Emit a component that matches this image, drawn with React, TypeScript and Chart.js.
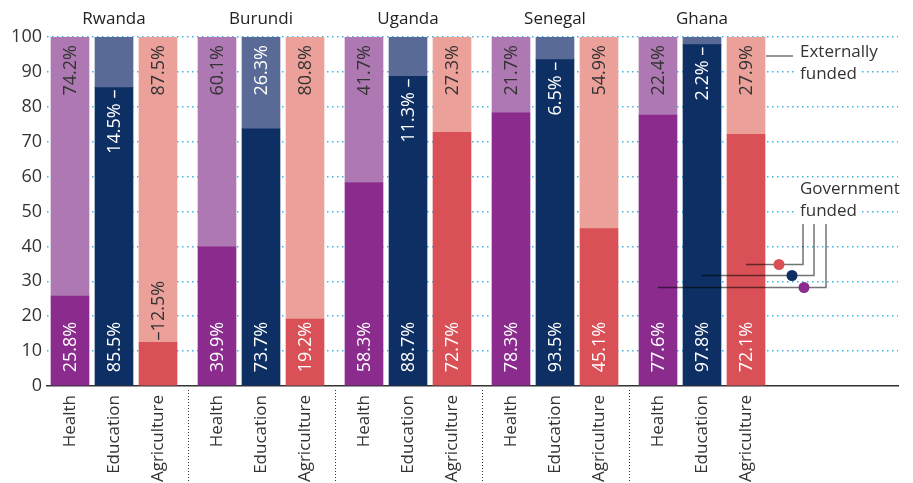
import React, { useEffect, useRef } from 'react';
import { Chart, registerables } from 'chart.js';

Chart.register(...registerables);

// ---- data ----
const countries = ['Rwanda', 'Burundi', 'Uganda', 'Senegal', 'Ghana'];
const sectors = ['Health', 'Education', 'Agriculture'];
const governmentHealth = [25.8, 39.9, 58.3, 78.3, 77.6];
const governmentEducation = [85.5, 73.7, 88.7, 93.5, 97.8];
const governmentAgriculture = [12.5, 19.2, 72.7, 45.1, 72.1];
const externalHealth = [74.2, 60.1, 41.7, 21.7, 22.4];
const externalEducation = [14.5, 26.3, 11.3, 6.5, 2.2];
const externalAgriculture = [87.5, 80.8, 27.3, 54.9, 27.9];
const legendExternal = ['Externally', 'funded'];
const legendGovernment = ['Government', 'funded'];

// ---- styling / layout constants ----
const FONT = '"Open Sans", "Noto Sans", sans-serif';
const WEIGHT = '400';
const GROUP_STEP = 147 / 44;
const govColors = ['#8B2B8E', '#0E2F63', '#D95057'];
const extColors = ['#AE78B2', '#5A6A96', '#EBA09A'];
const extTextColors = ['#333333', '#ffffff', '#333333'];
const TEXT = '#333333';

const governmentShare = countries.flatMap((_, g) => [governmentHealth[g], governmentEducation[g], governmentAgriculture[g]]);
const externalShare = countries.flatMap((_, g) => [externalHealth[g], externalEducation[g], externalAgriculture[g]]);
const positions = countries.flatMap((_, g) => sectors.map((_, i) => g * GROUP_STEP + i));
const sectorOf = (k: number) => k % 3;
const fmt = (v: number) => v.toFixed(1) + '%';

function drawRotated(ctx: CanvasRenderingContext2D, text: string, x: number, y: number, align: CanvasTextAlign, color: string) {
  ctx.save();
  ctx.translate(x, y);
  ctx.rotate(-Math.PI / 2);
  ctx.textAlign = align;
  ctx.textBaseline = 'middle';
  ctx.fillStyle = color;
  ctx.fillText(text, 0, 1);
  ctx.restore();
}

const decorPlugin = {
  id: 'decor',
  afterDatasetsDraw(chart: any) {
    const ctx: CanvasRenderingContext2D = chart.ctx;
    const gov = chart.getDatasetMeta(0).data;
    const ext = chart.getDatasetMeta(1).data;
    const area = chart.chartArea;
    const yScale = chart.scales.y;

    // bar value labels
    ctx.save();
    ctx.font = `${WEIGHT} 18px ${FONT}`;
    gov.forEach((gEl: any, k: number) => {
      const eEl = ext[k];
      const s = sectorOf(k);
      const base = gEl.base;
      const boundary = gEl.y;
      const top = eEl.y;
      const cx = gEl.x;
      const gText = fmt(governmentShare[k]);
      const eText = fmt(externalShare[k]);
      const gW = ctx.measureText(gText).width;
      const eW = ctx.measureText(eText).width;
      if (gW + 12 <= base - boundary) {
        drawRotated(ctx, gText, cx, base - 13, 'left', '#ffffff');
      } else {
        drawRotated(ctx, '\u2013' + gText, cx, boundary - 2, 'left', extTextColors[s]);
      }
      if (eW + 12 <= boundary - top) {
        drawRotated(ctx, eText, cx, top + 8, 'right', extTextColors[s]);
      } else {
        drawRotated(ctx, eText + ' \u2013', cx, boundary + 2, 'right', '#ffffff');
      }
    });
    ctx.restore();

    // country names
    ctx.save();
    ctx.font = `${WEIGHT} 17px ${FONT}`;
    ctx.fillStyle = '#222222';
    ctx.textAlign = 'center';
    ctx.textBaseline = 'alphabetic';
    countries.forEach((c, g) => {
      ctx.fillText(c, gov[g * 3 + 1].x, 24);
    });
    ctx.restore();

    // group separators below axis
    ctx.save();
    ctx.strokeStyle = '#333333';
    ctx.lineWidth = 1;
    ctx.setLineDash([1, 2]);
    for (let g = 0; g < countries.length - 1; g++) {
      const a = gov[g * 3 + 2];
      const b = gov[g * 3 + 3];
      const x = Math.round((a.x + a.width / 2 + b.x - b.width / 2) / 2) + 0.5;
      ctx.beginPath();
      ctx.moveTo(x, area.bottom + 4);
      ctx.lineTo(x, chart.height);
      ctx.stroke();
    }
    ctx.restore();

    // annotations
    const lastAgri = gov[gov.length - 1];
    const barRight = lastAgri.x + lastAgri.width / 2;
    const textX = barRight + 35;
    ctx.save();
    ctx.font = `${WEIGHT} 17px ${FONT}`;
    ctx.textAlign = 'left';
    ctx.textBaseline = 'alphabetic';
    const drawLines = (lines: string[], baseY: number) => {
      lines.forEach((t, i) => {
        const w = ctx.measureText(t).width;
        const by = baseY + i * 22;
        ctx.fillStyle = '#ffffff';
        ctx.fillRect(textX - 4, by - 15, w + 8, 20);
        ctx.fillStyle = TEXT;
        ctx.fillText(t, textX, by);
      });
    };
    drawLines(legendExternal, 57);
    drawLines(legendGovernment, 194);

    ctx.strokeStyle = 'rgba(0,0,0,0.55)';
    ctx.lineWidth = 1.5;
    ctx.beginPath();
    ctx.moveTo(barRight + 1, 56);
    ctx.lineTo(barRight + 28, 56);
    ctx.stroke();

    const leaders = [
      { k: gov.length - 1, value: 35, dx: -21, vx: 3 },
      { k: gov.length - 2, value: 31.7, dx: -8, vx: 14 },
      { k: gov.length - 3, value: 28.5, dx: 4, vx: 26 },
    ];
    leaders.forEach((l) => {
      const y = Math.round(yScale.getPixelForValue(l.value)) + 0.5;
      const startX = gov[l.k].x;
      const vX = textX + l.vx;
      ctx.strokeStyle = 'rgba(0,0,0,0.55)';
      ctx.beginPath();
      ctx.moveTo(startX, y);
      ctx.lineTo(vX, y);
      ctx.lineTo(vX, 224);
      ctx.stroke();
      ctx.fillStyle = govColors[sectorOf(l.k)];
      ctx.beginPath();
      ctx.arc(textX + l.dx, y, 5.5, 0, Math.PI * 2);
      ctx.fill();
    });
    ctx.restore();
  },
};

export default function App() {
  const ref = useRef<HTMLCanvasElement | null>(null);
  useEffect(() => {
    document.body.style.margin = '0';
    const canvas = ref.current;
    if (!canvas) return;
    const chart = new Chart(canvas, {
      type: 'bar',
      data: {
        datasets: [
          {
            label: 'Government funded',
            data: positions.map((x, k) => ({ x, y: governmentShare[k] })),
            backgroundColor: positions.map((_, k) => govColors[sectorOf(k)]),
            barThickness: 38,
            borderWidth: 0,
          },
          {
            label: 'Externally funded',
            data: positions.map((x, k) => ({ x, y: externalShare[k] })),
            backgroundColor: positions.map((_, k) => extColors[sectorOf(k)]),
            barThickness: 38,
            borderWidth: 0,
          },
        ],
      },
      options: {
        animation: false,
        responsive: false,
        maintainAspectRatio: false,
        layout: { padding: { left: 0, right: 15, top: 37, bottom: 0 } },
        plugins: { legend: { display: false }, tooltip: { enabled: false } },
        scales: {
          x: {
            type: 'linear',
            stacked: true,
            offset: false,
            bounds: 'data',
            min: -23 / 44,
            max: -23 / 44 + 851 / 44,
            afterBuildTicks: (scale: any) => {
              scale.ticks = positions.map((v) => ({ value: v }));
            },
            afterFit: (scale: any) => {
              scale.height = 97;
            },
            grid: { display: false, drawTicks: false, offset: false },
            border: { display: true, color: '#333333', width: 1.5 },
            ticks: {
              autoSkip: false,
              minRotation: 90,
              maxRotation: 90,
              padding: 9,
              color: TEXT,
              font: { family: FONT, size: 17, weight: WEIGHT },
              callback: (_v: any, i: number) => sectors[i % 3],
            },
          },
          y: {
            stacked: true,
            min: 0,
            max: 100,
            afterFit: (scale: any) => {
              scale.width = 47;
            },
            grid: {
              drawTicks: false,
              lineWidth: 1.5,
              color: (c: any) => (c.tick && c.tick.value === 0 ? 'rgba(0,0,0,0)' : '#3DB4E3'),
            },
            border: { display: false, dash: [1.5, 3.5] },
            ticks: {
              stepSize: 10,
              padding: 5,
              color: TEXT,
              font: { family: FONT, size: 18, weight: WEIGHT },
            },
          },
        },
      },
      plugins: [decorPlugin],
    } as any);
    return () => chart.destroy();
  }, []);
  return (
    <div style={{ width: 913, height: 483 }}>
      <canvas ref={ref} width={913} height={483} style={{ display: 'block', width: 913, height: 483 }} />
    </div>
  );
}
